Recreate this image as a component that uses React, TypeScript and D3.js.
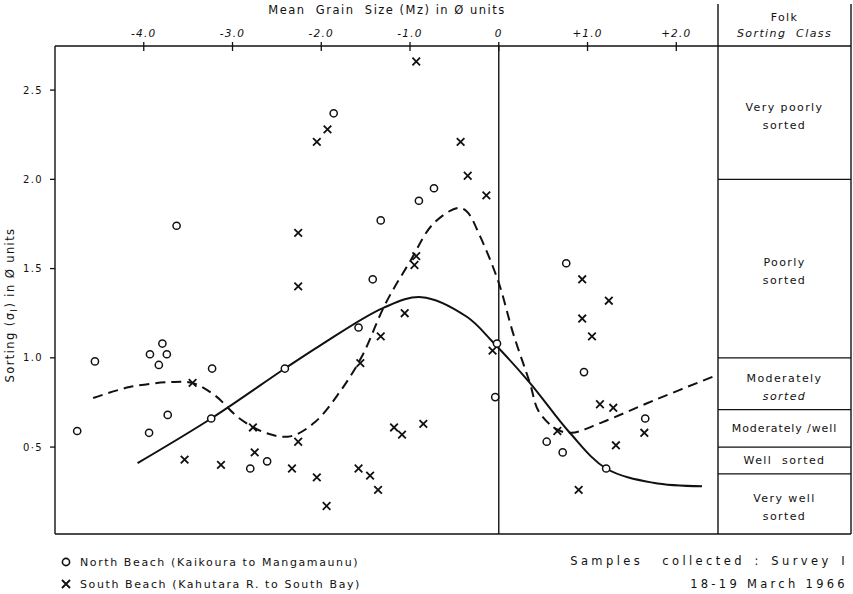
import * as d3 from 'd3'

// mean grain size (phi) and sorting (phi)
const northMz = [-4.75, -4.55, -3.93, -3.79, -3.74, -3.83, -3.73, -3.63, -3.94, -3.23, -3.24, -2.8, -2.61, -2.41, -1.86, -1.33, -1.42, -1.58, -0.9, -0.73, -0.02, -0.04, 0.76, 0.96, 0.54, 0.72, 1.21, 1.65]
const northSort = [0.59, 0.98, 1.02, 1.08, 1.02, 0.96, 0.68, 1.74, 0.58, 0.94, 0.66, 0.38, 0.42, 0.94, 2.37, 1.77, 1.44, 1.17, 1.88, 1.95, 1.08, 0.78, 1.53, 0.92, 0.53, 0.47, 0.38, 0.66]

const southMz = [-3.54, -3.13, -3.45, -2.77, -2.75, -2.33, -2.26, -2.05, -1.94, -2.26, -2.26, -2.05, -1.93, -0.93, -0.43, -0.35, -0.14, -0.93, -0.95, -1.06, -1.33, -1.56, -0.07, -1.18, -1.09, -0.85, -1.58, -1.45, -1.36, 0.94, 1.24, 0.94, 1.05, 1.14, 1.29, 1.64, 0.66, 1.32, 0.9]
const southSort = [0.43, 0.4, 0.86, 0.61, 0.47, 0.38, 0.53, 0.33, 0.17, 1.7, 1.4, 2.21, 2.28, 2.66, 2.21, 2.02, 1.91, 1.57, 1.52, 1.25, 1.12, 0.97, 1.04, 0.61, 0.57, 0.63, 0.38, 0.34, 0.26, 1.44, 1.32, 1.22, 1.12, 0.74, 0.72, 0.58, 0.59, 0.51, 0.26]

// hand drawn trend lines
const northTrendMz = [-4.07, -3.24, -2.41, -2.01, -1.3, -0.87, -0.36, -0.07, 0.35, 0.8, 1.21, 1.74, 2.29]
const northTrendSort = [0.41, 0.66, 0.94, 1.07, 1.28, 1.34, 1.23, 1.09, 0.86, 0.58, 0.38, 0.3, 0.28]
const southTrendMz = [-4.57, -4.16, -3.7, -3.45, -3.2, -2.92, -2.63, -2.35, -2.07, -1.79, -1.54, -1.28, -1.0, -0.74, -0.46, -0.36, -0.21, 0.0, 0.16, 0.35, 0.45, 0.65, 0.82, 1.17, 1.74, 2.44]
const southTrendSort = [0.775, 0.836, 0.864, 0.859, 0.79, 0.66, 0.58, 0.56, 0.64, 0.81, 1.01, 1.3, 1.54, 1.75, 1.84, 1.82, 1.68, 1.42, 1.14, 0.86, 0.7, 0.6, 0.58, 0.64, 0.76, 0.9]

const xTicks = [-4, -3, -2, -1, 0, 1, 2]
const xTickLabels = ['-4.0', '-3.0', '-2.0', '-1.0', '0', '+1.0', '+2.0']
const yTicks = [0.5, 1.0, 1.5, 2.0, 2.5]
const yTickLabels = ['0·5', '1.0', '1.5', '2.0', '2.5']

// Folk sorting classes, from the top
const classNames = ['Very poorly|sorted', 'Poorly|sorted', 'Moderately|sorted', 'Moderately /well', 'Well \u00a0sorted', 'Very well|sorted']
const classLimits = [2.0, 1.0, 0.71, 0.5, 0.35]

const W = 853
const H = 594
const left = 55
const right = 718
const panelRight = 851
const top = 46
const bottom = 534

const font = '"DejaVu Sans", sans-serif'
const ink = '#111'

export default function App() {
  const x = d3.scaleLinear().domain([-5, 2.47]).range([left, right])
  const y = d3.scaleLinear().domain([0.013, 2.747]).range([bottom, top])

  const line = d3
    .line<[number, number]>()
    .x((d) => x(d[0]))
    .y((d) => y(d[1]))
    .curve(d3.curveCatmullRom.alpha(0.5))

  const northTrend = line(northTrendMz.map((v, i) => [v, northTrendSort[i]]))
  const southTrend = line(southTrendMz.map((v, i) => [v, southTrendSort[i]]))

  const bands = [y.domain()[1], ...classLimits, y.domain()[0]]
  const panelX = (right + panelRight) / 2

  return (
    <svg
      width={W}
      height={H}
      style={{ position: 'absolute', left: 0, top: 0, background: '#fff' }}
      fontFamily={font}
    >
      {/* titles */}
      <text x={387} y={14} textAnchor="middle" fontSize={11.5} letterSpacing={1.5} fill={ink}>
        {'Mean \u00a0Grain \u00a0Size (Mz) in Ø units'}
      </text>
      <text
        transform={`translate(14,305) rotate(-90)`}
        textAnchor="middle"
        fontSize={11.5}
        letterSpacing={1.4}
        fill={ink}
      >
        Sorting (σ<tspan fontSize={9} dy={3}>I</tspan><tspan dy={-3}>) in Ø units</tspan>
      </text>

      {/* frame */}
      <g stroke={ink} fill="none" strokeWidth={1.4}>
        <line x1={left} x2={panelRight} y1={top} y2={top} />
        <line x1={left} x2={panelRight} y1={bottom} y2={bottom} />
        <line x1={left} x2={left} y1={top} y2={bottom} />
        <line x1={right} x2={right} y1={4} y2={bottom} />
        <line x1={panelRight} x2={panelRight} y1={4} y2={bottom} />
        <line x1={x(0)} x2={x(0)} y1={top} y2={bottom} />
      </g>

      {/* top axis */}
      {xTicks.map((t, i) => (
        <g key={t}>
          <line x1={x(t)} x2={x(t)} y1={top - 4} y2={top + 5} stroke={ink} strokeWidth={1.3} />
          <text x={x(t)} y={37} textAnchor="middle" fontSize={10.5} fontStyle="italic" letterSpacing={1.2} fill={ink}>
            {xTickLabels[i]}
          </text>
        </g>
      ))}

      {/* left axis */}
      {yTicks.map((t, i) => (
        <g key={t}>
          <line x1={left - 5} x2={left} y1={y(t)} y2={y(t)} stroke={ink} strokeWidth={1.3} />
          <text x={left - 12} y={y(t)} dy="0.35em" textAnchor="end" fontSize={10} letterSpacing={1.4} fill={ink}>
            {yTickLabels[i]}
          </text>
        </g>
      ))}

      {/* sorting class panel */}
      <text x={panelX} y={21} textAnchor="middle" fontSize={11} letterSpacing={1.4} fill={ink}>Folk</text>
      <text x={panelX} y={37} textAnchor="middle" fontSize={11} fontStyle="italic" letterSpacing={1.4} fill={ink}>
        {'Sorting \u00a0Class'}
      </text>
      {classLimits.map((c) => (
        <line key={c} x1={right} x2={panelRight} y1={y(c)} y2={y(c)} stroke={ink} strokeWidth={1.3} />
      ))}
      {classNames.map((name, i) => {
        const lines = name.split('|')
        const mid = (y(bands[i]) + y(bands[i + 1])) / 2 + (lines.length > 1 ? 3 : 0)
        return lines.map((l, j) => (
          <text
            key={name + j}
            x={panelX}
            y={mid + (j - (lines.length - 1) / 2) * 18}
            dy="0.35em"
            textAnchor="middle"
            fontSize={11}
            letterSpacing={l.startsWith('Moderately /') ? 0.9 : 1.4}
            fontStyle={i === 2 && j === 1 ? 'italic' : 'normal'}
            fill={ink}
          >
            {l}
          </text>
        ))
      })}

      {/* trend lines */}
      <path d={southTrend ?? ''} fill="none" stroke={ink} strokeWidth={2} strokeDasharray="10 6" />
      <path d={northTrend ?? ''} fill="none" stroke={ink} strokeWidth={2} />

      {/* points */}
      {northMz.map((v, i) => (
        <circle key={'n' + i} cx={x(v)} cy={y(northSort[i])} r={3.6} fill="#fff" stroke={ink} strokeWidth={1.5} />
      ))}
      {southMz.map((v, i) => {
        const cx = x(v)
        const cy = y(southSort[i])
        const s = 3.8
        return (
          <path
            key={'s' + i}
            d={`M${cx - s},${cy - s}L${cx + s},${cy + s}M${cx - s},${cy + s}L${cx + s},${cy - s}`}
            stroke={ink}
            strokeWidth={1.8}
          />
        )
      })}

      {/* legend */}
      <circle cx={66} cy={562} r={3.6} fill="none" stroke={ink} strokeWidth={1.6} />
      <text x={80} y={562} dy="0.35em" fontSize={11} letterSpacing={1.6} fill={ink}>
        North Beach (Kaikoura to Mangamaunu)
      </text>
      <path d="M62,580L70,588M62,588L70,580" stroke={ink} strokeWidth={1.9} />
      <text x={80} y={584} dy="0.35em" fontSize={11} letterSpacing={1.6} fill={ink}>
        South Beach (Kahutara R. to South Bay)
      </text>
      <text x={848} y={561} dy="0.35em" textAnchor="end" fontSize={11.5} letterSpacing={3.4} wordSpacing={2.5} fill={ink}>
        {'Samples \u00a0collected : Survey I'}
      </text>
      <text x={848} y={584} dy="0.35em" textAnchor="end" fontSize={11.5} letterSpacing={3.3} fill={ink}>
        18-19 March 1966
      </text>
    </svg>
  )
}
